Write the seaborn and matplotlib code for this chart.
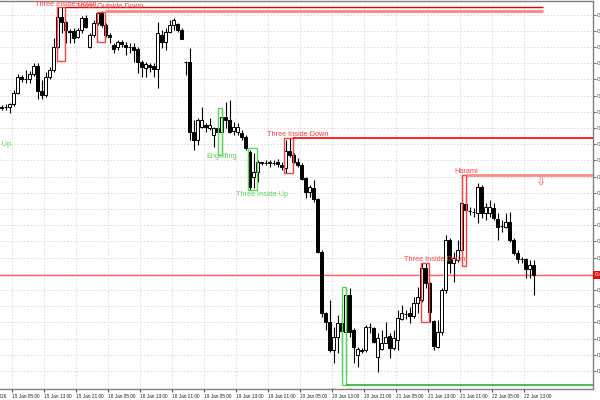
import matplotlib
matplotlib.use("Agg")
import matplotlib.pyplot as plt
from matplotlib.patches import Rectangle
from matplotlib.ticker import FuncFormatter
import seaborn as sns
import numpy as np

# hourly candles, values in points above the chart floor
open_pts = [281.5, 282, 281.7, 285, 296.3, 312.3, 310.3, 310.3, 315, 323.3,
            298.3, 294, 312.3, 319, 342.3, 371.7, 367.3, 358, 358, 352.3,
            359, 370.7, 341.7, 354, 365.7, 375.7, 364, 354, 344, 342.3,
            347.3, 344, 342.3, 342.3, 339.7, 327.3, 321.3, 324, 323, 320,
            354, 347.3, 357.3, 364, 365, 359, 327.3, 327.3, 257.3, 249,
            262.3, 264, 260.7, 254, 260.7, 257.3, 271.7, 269, 258, 257.3,
            255.7, 252.3, 237.3, 212.3, 217.3, 226.3, 226.3, 226.3, 226.3, 227.3,
            224, 220.7, 238.3, 234, 227.3, 224, 210.7, 197.3, 200.7, 189.7,
            137.3, 76.3, 67.3, 39, 52.3, 65.7, 57.3, 94, 59, 34,
            39, 39, 62.3, 60.7, 32.3, 39.7, 46.3, 53, 40.7, 49,
            69.7, 75, 75.7, 73, 85.7, 89, 120.7, 105.7, 68.3, 42.3,
            57.3, 99, 149, 125.7, 129, 139, 185, 178.3, 177.3, 175.7,
            202.3, 175.7, 175.7, 180.7, 169.7, 163, 162.3, 167.3, 149, 135.7,
            130, 129.7, 119.7, 124]
high_pts = [284, 285, 286.3, 299, 315, 314, 319, 318.3, 325.7, 325.7,
            309, 317.3, 322.3, 350.7, 382, 381.7, 368.3, 360, 360.7, 360.7,
            373, 374, 355.7, 369, 377.3, 378.3, 365.7, 355.7, 345.7, 349,
            349, 347.3, 345.7, 345.7, 342.3, 329, 327.3, 325.7, 325.7, 367.3,
            359, 360.7, 369, 370.7, 365.7, 360.7, 328, 341.3, 269, 270.7,
            282.3, 265.7, 270.7, 262.3, 272.3, 280.7, 287.3, 289, 267.3, 265.7,
            259, 254, 239, 235.7, 229, 227.3, 229, 229, 229, 229.7,
            227.3, 249, 250.7, 235.7, 230.7, 225.7, 212.3, 204, 209, 190.7,
            139, 77.3, 89, 62.3, 74, 75.7, 102.3, 100.7, 60.7, 42.3,
            40.7, 64, 65.7, 62.3, 55.7, 59, 67.3, 55.7, 59, 79,
            84, 79, 82.3, 92.3, 102.3, 125.7, 125.7, 107.3, 69, 69,
            100.7, 154, 150.7, 137.3, 149, 214, 199, 182.3, 180.7, 205.7,
            204, 185.7, 189, 185.7, 175.7, 169, 175.7, 177.3, 150.7, 139,
            132.3, 130.7, 129, 129]
low_pts = [279, 279, 276.3, 283, 295, 307.3, 306, 305.7, 313, 289.7,
           289.7, 292.3, 309.7, 317.3, 341, 355.7, 345.7, 346, 345.7, 350.7,
           355.7, 360.7, 340.7, 352.3, 364, 362.3, 352.3, 345.7, 335.7, 339,
           342.3, 334, 335.7, 327.3, 315.7, 312.3, 312.3, 317.3, 312.3, 300.7,
           340.7, 339, 355.7, 359, 357.3, 349.7, 314, 249, 239, 244,
           260.7, 257.3, 259, 242.3, 255.7, 237.3, 260.7, 255.7, 254, 254,
           249, 239, 199, 200.7, 207.3, 224, 224, 222.3, 224, 222.3,
           219, 215.7, 232.3, 225.7, 222.3, 209, 190.7, 192.3, 187.3, 135.7,
           72.3, 59, 37.3, 25.7, 35.7, 12.3, 12.3, 52.3, 25.7, 22.3,
           35.7, 37.3, 55.7, 45.7, 17.3, 39, 45.7, 30.7, 39, 39,
           69, 69.7, 65.7, 71, 75.7, 87.3, 100.7, 67.3, 39, 40.7,
           54, 95.7, 115.7, 107.3, 127.3, 137, 175.7, 174, 172.3, 165.7,
           170.7, 169, 172.3, 169, 149, 157.3, 160.7, 147.3, 134, 125.7,
           125.7, 110.7, 110.7, 94]
close_pts = [282, 282.5, 285, 296.3, 312.3, 309.7, 310, 315, 323.3, 298.3,
             294, 312.3, 319, 342.3, 372.3, 367.3, 359, 356.7, 350.7, 359,
             370.7, 362.3, 354, 365.7, 375.7, 364, 354, 352.3, 340, 347.3,
             345, 341.7, 342.3, 339, 327.3, 322.3, 324.7, 322.3, 320, 355.7,
             347.3, 357.3, 364, 369, 359, 350, 327.3, 257.3, 249, 269,
             269, 261.7, 264, 260.7, 257.3, 272.3, 269, 257.3, 262.3, 261.7,
             252.3, 240.7, 202.3, 217.3, 226.7, 226.7, 225.7, 226.7, 226.5, 225,
             222.3, 238.3, 234, 227.3, 224, 209.7, 197.3, 202.3, 189.7, 137.3,
             75.7, 67.3, 39, 52.3, 65.7, 58.3, 94, 57.3, 42.3, 39.7,
             38.3, 62.3, 61.7, 47.3, 50.7, 46.3, 52.3, 41.3, 50.7, 70.7,
             75.7, 75.2, 73, 85.7, 92.3, 120.7, 105.7, 77.3, 43, 57.3,
             99, 149, 125.7, 130.7, 139, 185.7, 179, 178.5, 177.5, 202.3,
             175.7, 182.3, 182.3, 170.7, 162.3, 162.8, 167.3, 149, 135.7, 129.7,
             129.7, 119.7, 124, 114]

time_ticks = [3, 11, 19, 27, 35, 43, 51, 59, 67, 75, 83, 91, 99, 107, 115, 123, 131]
time_labels = ["15 Jan 05:00", "15 Jan 13:00", "15 Jan 21:00", "16 Jan 05:00",
               "16 Jan 13:00", "16 Jan 21:00", "19 Jan 05:00", "19 Jan 13:00",
               "19 Jan 21:00", "20 Jan 05:00", "20 Jan 13:00", "20 Jan 21:00",
               "21 Jan 05:00", "21 Jan 13:00", "21 Jan 21:00", "22 Jan 05:00",
               "22 Jan 13:00"]

# detected patterns: name, bull/bear, bar span, price span, label spot
pat_names = ["Three Inside Down", "Three Outside Down", "Engulfing", "Three Inside Up",
             "Three Inside Down", "Engulfing", "Three Inside Down", "Harami"]
pat_bull = [False, False, True, True, False, True, False, False]
pat_x0 = [13.8, 23.8, 54.0, 61.7, 70.7, 85.0, 104.8, 115.05]
pat_x1 = [15.9, 25.9, 55.05, 63.9, 72.9, 86.1, 106.9, 116.1]
pat_lo = [328, 346.7, 234, 199, 215.7, 4, 67.3, 123]
pat_hi = [381.7, 377.3, 280.7, 240.7, 250.7, 102.3, 125.7, 214]
label_x = [16.1, 27.1, 55.1, 65.1, 74.1, 86.1, 108.3, 116.1]
label_y = [385, 382, 232, 195, 255, -2.5, 129.5, 217.5]

# levels projected to the right from a pattern
level_y = [381.7, 378.3, 250.7, 214, 4]
level_x0 = [15.9, 25.9, 72.9, 116.1, 86.1]
level_x1 = [135.4, 135.4, 147.9, 147.9, 147.9]
level_col = ["#e00000", "#ff8a8a", "#ff1010", "#ff8a8a", "#30b030"]
level_lw = [1.0, 2.2, 1.3, 2.0, 1.2]

RED = "#ff4040"
GREEN = "#5ad65a"
BASE = 0.68000
POINT = 0.00001

sns.set_theme(style="white")
plt.rcParams['font.family'] = ['Liberation Sans', 'DejaVu Sans']

fig = plt.figure(figsize=(6, 4), dpi=100)
ax = fig.add_axes([0, 11 / 400, 593 / 600, 388 / 400])

x = np.arange(len(open_pts))
o = np.array(open_pts)
h = np.array(high_pts)
l = np.array(low_pts)
c = np.array(close_pts)
bull = c >= o

ax.vlines(x, l, h, color="black", lw=0.8, zorder=3)
ax.bar(x, c - o, bottom=o, width=0.55, color=np.where(bull, "white", "black"),
       edgecolor="black", linewidth=0.7, zorder=4)

# pattern boxes and labels
for i in range(len(pat_names)):
    col = GREEN if pat_bull[i] else RED
    ax.add_patch(Rectangle((pat_x0[i], pat_lo[i]), pat_x1[i] - pat_x0[i],
                           pat_hi[i] - pat_lo[i], fill=False, edgecolor=col,
                           lw=1.0, zorder=5))
    ax.text(label_x[i], label_y[i], pat_names[i], color=col, fontsize=5.3,
            ha="center", va="center", zorder=6, clip_on=label_y[i] < 0)

for i in range(len(level_y)):
    ax.plot([level_x0[i], level_x1[i]], [level_y[i], level_y[i]],
            color=level_col[i], lw=level_lw[i], zorder=5, solid_capstyle="butt")

# label of an earlier pattern cut off at the left edge
ax.text(2.4, 244, "Three Inside Up", color=GREEN, fontsize=5.3, ha="right", va="center")

# sell arrow
ax.text(134.9, 207.3, "\u21e9", color="#ff6060", fontsize=9, ha="center",
        va="center", family="DejaVu Sans")

# bid line with price tag
ax.axhline(c[-1], color="#ff6464", lw=1.0, zorder=2.5)
ax.annotate(f"{BASE + c[-1] * POINT:.5f}", xy=(1, c[-1]), xycoords=("axes fraction", "data"),
            xytext=(1.2, 0), textcoords="offset points", va="center", ha="left",
            fontsize=4.5, color="white", annotation_clip=False,
            bbox=dict(boxstyle="square,pad=0.2", fc="#dd1111", ec="none"))

ax.set_xlim(-0.375, 147.875)
ax.set_ylim(0, 388)

ax.set_yticks(np.arange(18.0, 380, 16.2))
ax.yaxis.tick_right()
ax.yaxis.set_major_formatter(FuncFormatter(lambda v, p: f"{BASE + v * POINT:.5f}"))
ax.tick_params(axis="y", direction="out", length=2.2, width=0.6, colors="#555555",
               labelsize=4.5, pad=0.6, right=True)

ax.set_xticks([t - 0.4 for t in time_ticks])
ax.set_xticklabels(time_labels, ha="left")
ax.tick_params(axis="x", direction="out", length=2.5, width=0.6, colors="#222222",
               labelsize=3.4, pad=1.2, bottom=True)

ax.annotate("15 Jan 2026", xy=(1.1, 0), xycoords=("data", "axes fraction"),
            xytext=(0, -3.5), textcoords="offset points", ha="right", va="top",
            fontsize=3.4, color="#222222", annotation_clip=False)

ax.grid(True, color="#d8d8d8", ls=(0, (2, 2)), lw=0.6)
ax.set_axisbelow(True)
ax.spines["left"].set_visible(False)
for s in ["top", "right", "bottom"]:
    ax.spines[s].set_color("#808080")
    ax.spines[s].set_linewidth(1.0)

fig.savefig("out.png", dpi=100, facecolor="white")
